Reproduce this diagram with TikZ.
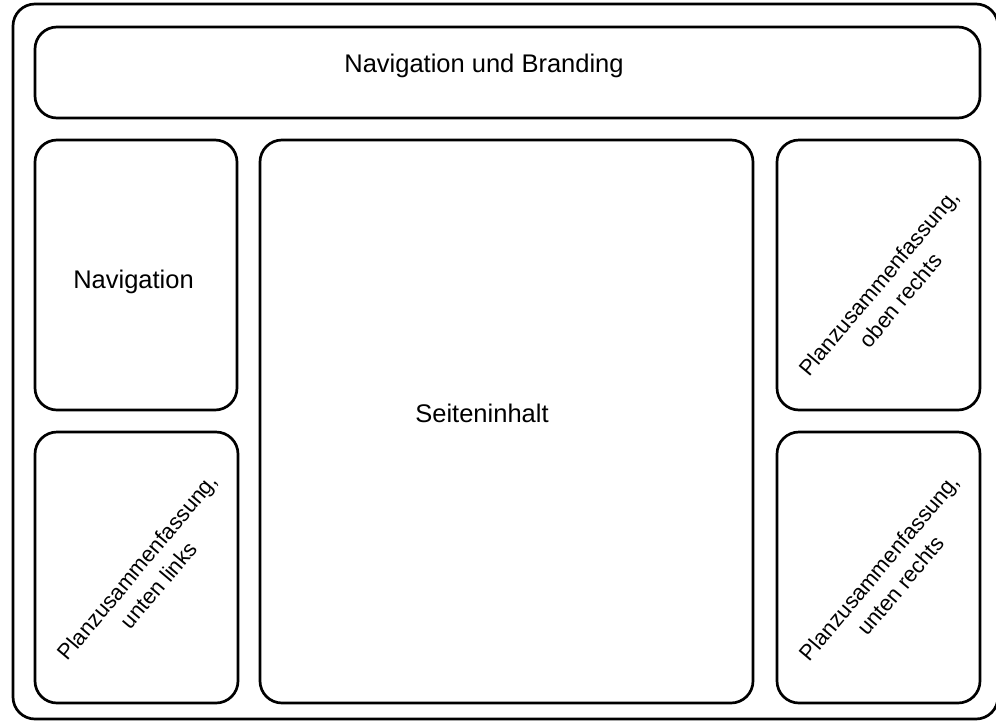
\documentclass[tikz,border=0pt]{standalone}
\usepackage{fontspec}
\setmainfont{Liberation Sans}
\begin{document}
\begin{tikzpicture}[x=1pt,y=-1pt,
  box/.style={draw=black, line width=2.7pt, rounded corners=22pt, inner sep=0pt},
  lbl/.style={font=\fontsize{25.5}{29}\selectfont, inner sep=0pt, anchor=base},
  rlbl/.style={font=\fontsize{22}{28}\selectfont, inner sep=0pt, align=center, rotate=50}]
\useasboundingbox (0,0) rectangle (996,721);
\fill[white] (0,0) rectangle (996,721);
\draw[box] (13,4) rectangle (998,719);
\node[box, minimum width=945pt, minimum height=91pt] (top) at (507.5,72.5) {};
\node[box, minimum width=202pt, minimum height=270pt] (nav) at (136,275) {};
\node[box, minimum width=203pt, minimum height=271pt] (bl) at (136.5,567.5) {};
\node[box, minimum width=493pt, minimum height=563pt] (mid) at (506.5,421.5) {};
\node[box, minimum width=203pt, minimum height=270pt] (tr) at (878.5,275) {};
\node[box, minimum width=203pt, minimum height=271pt] (br) at (878.5,567.5) {};
\node[lbl] (ttop) at (484,72) {Navigation und Branding};
\node[lbl] (tnav) at (133.5,288) {Navigation};
\node[lbl] (tmid) at (482,422) {Seiteninhalt};
\node[rlbl] (tbl) at (148,576) {Planzusammenfassung,\\unten links};
\node[rlbl] (ttr) at (889.5,291.5) {Planzusammenfassung,\\oben rechts};
\node[rlbl] (tbr) at (890,576.5) {Planzusammenfassung,\\unten rechts};
\end{tikzpicture}
\end{document}
